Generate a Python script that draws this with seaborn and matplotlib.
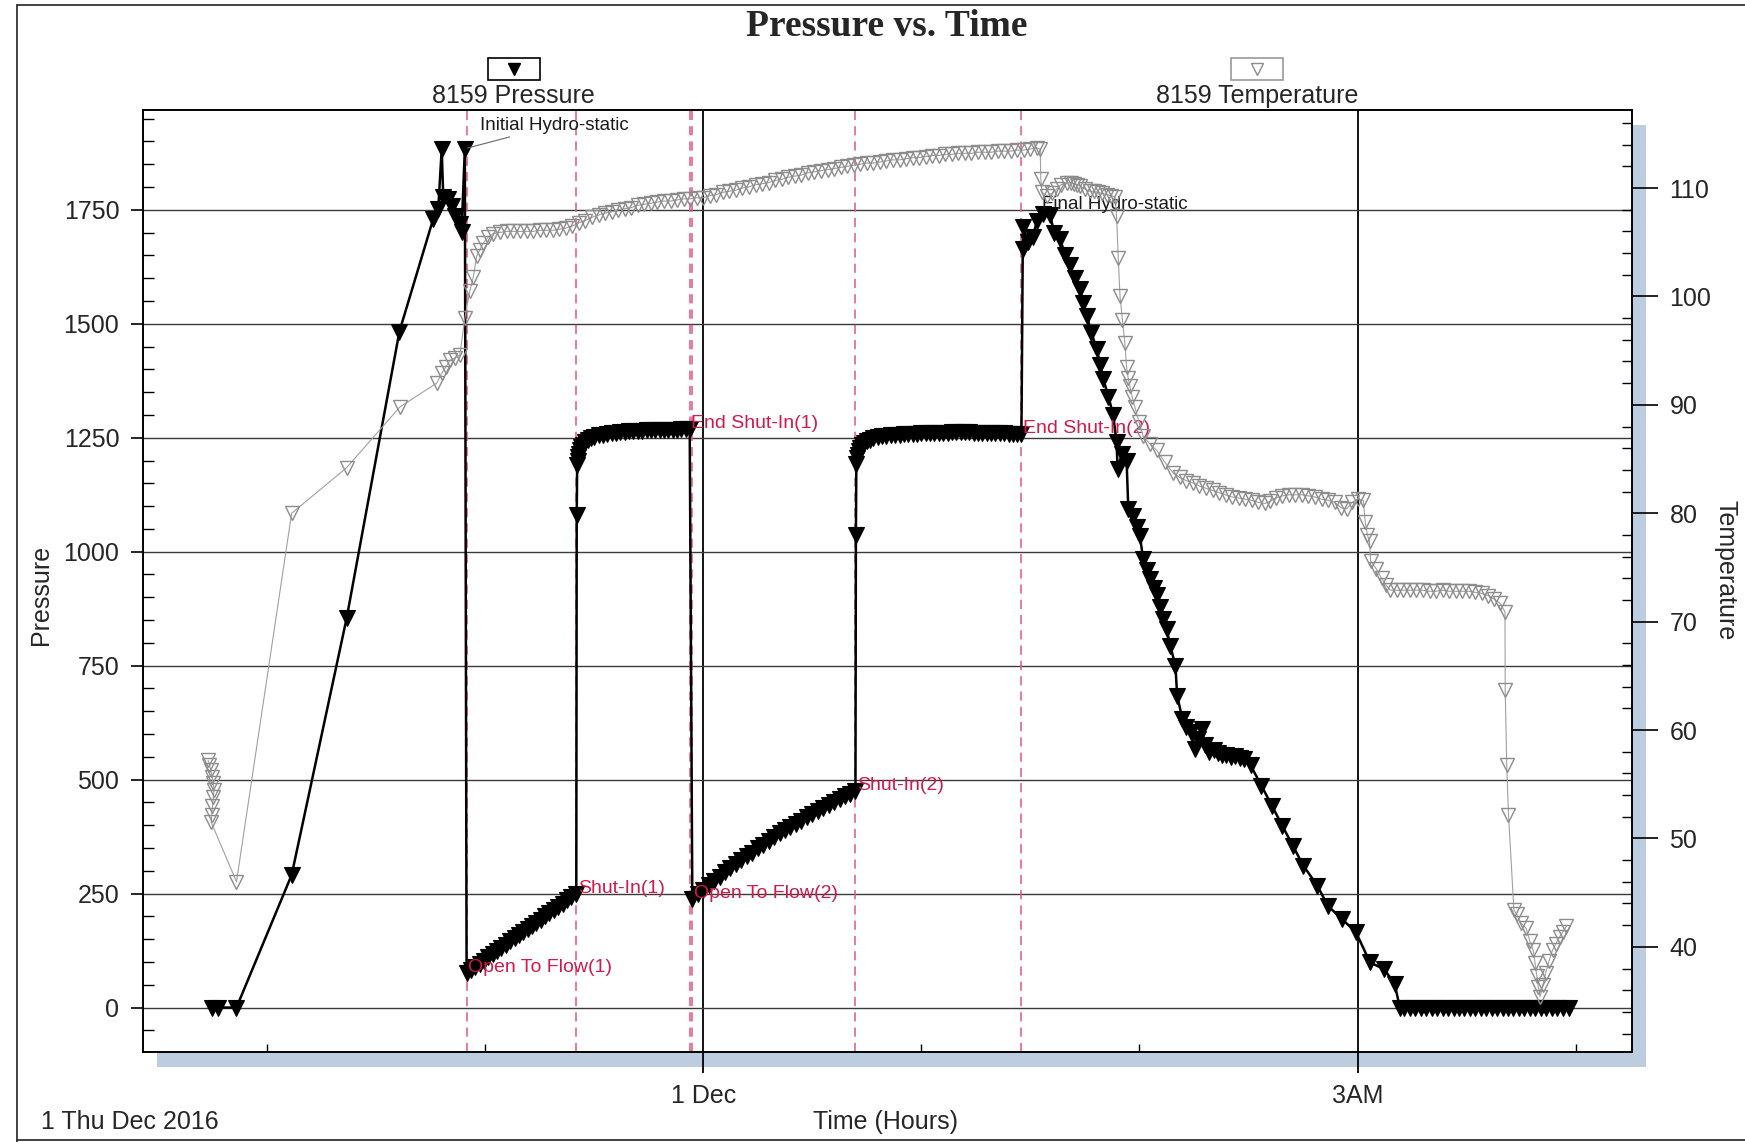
import matplotlib
matplotlib.use("Agg")
import matplotlib.pyplot as plt
import seaborn as sns
import numpy as np
import pandas as pd
from matplotlib.patches import Rectangle
from matplotlib.lines import Line2D
from matplotlib.ticker import MultipleLocator, FixedLocator

# gauge 8159, time in hours relative to midnight 1 Dec 2016
RUN_IN_HRS = [-2.254, -2.224, -2.140, -1.887, -1.635, -1.393, -1.238, -1.215, -1.199,
              -1.192, -1.169, -1.154, -1.138, -1.116, -1.108, -1.093]
RUN_IN_PSI = [0, 0, 0, 291, 854, 1483, 1730, 1752, 1884,
              1778, 1774, 1759, 1737, 1719, 1701, 1884]

FLOW1_HRS = [-1.085, -1.065, -1.045, -1.025, -1.005, -0.985, -0.965, -0.945, -0.925,
             -0.905, -0.885, -0.865, -0.845, -0.825, -0.805, -0.785, -0.765, -0.745,
             -0.725, -0.705, -0.685, -0.665, -0.645, -0.625, -0.605, -0.582]
FLOW1_PSI = [75, 82, 89, 96, 103, 110, 117, 124, 131,
             138, 145, 152, 159, 165, 172, 179, 186, 193,
             200, 207, 214, 221, 228, 235, 242, 250]

SHUTIN1_HRS = [-0.580, -0.578, -0.576, -0.574, -0.571, -0.566, -0.560, -0.552, -0.543,
               -0.530, -0.515, -0.500, -0.480, -0.460, -0.440, -0.420, -0.400, -0.380,
               -0.360, -0.340, -0.320, -0.300, -0.280, -0.260, -0.240, -0.220, -0.200,
               -0.180, -0.160, -0.140, -0.120, -0.100, -0.080, -0.062]
SHUTIN1_PSI = [1080, 1190, 1200, 1208, 1215, 1222, 1229, 1235, 1240,
               1245, 1249, 1252, 1255, 1257, 1259, 1260, 1261, 1262,
               1263, 1264, 1264, 1265, 1265, 1266, 1266, 1267, 1267,
               1267, 1268, 1268, 1268, 1269, 1269, 1270]

FLOW2_HRS = [-0.050, -0.025, 0.000, 0.025, 0.050, 0.075, 0.100, 0.125, 0.150, 0.175,
             0.200, 0.225, 0.250, 0.275, 0.300, 0.325, 0.350, 0.375, 0.400, 0.425,
             0.450, 0.475, 0.500, 0.525, 0.550, 0.575, 0.600, 0.625, 0.650, 0.675, 0.698]
FLOW2_PSI = [238, 248, 258, 268, 277, 287, 297, 306, 314, 323,
             332, 340, 349, 357, 366, 375, 382, 389, 396, 403,
             410, 417, 424, 431, 438, 444, 450, 457, 463, 469, 475]

SHUTIN2_HRS = [0.700, 0.702, 0.705, 0.709, 0.714, 0.720, 0.728, 0.738, 0.750, 0.765,
               0.780, 0.800, 0.820, 0.840, 0.860, 0.880, 0.900, 0.920, 0.940, 0.960,
               0.980, 1.000, 1.020, 1.040, 1.060, 1.080, 1.100, 1.120, 1.140, 1.160,
               1.180, 1.200, 1.220, 1.240, 1.260, 1.280, 1.300, 1.320, 1.340, 1.360,
               1.380, 1.400, 1.420, 1.440, 1.459]
SHUTIN2_PSI = [1036, 1193, 1205, 1213, 1220, 1227, 1233, 1238, 1242, 1246,
               1249, 1251, 1253, 1254, 1255, 1256, 1257, 1258, 1258, 1259,
               1259, 1260, 1260, 1260, 1261, 1261, 1261, 1261, 1262, 1262,
               1262, 1262, 1262, 1261, 1261, 1261, 1261, 1260, 1260, 1260,
               1260, 1259, 1259, 1259, 1258]

PULL_OUT_HRS = [1.465, 1.468, 1.490, 1.510, 1.530, 1.560, 1.590, 1.610, 1.636, 1.660,
                1.681, 1.705, 1.727, 1.742, 1.758, 1.780, 1.804, 1.820, 1.834, 1.858,
                1.880, 1.895, 1.900, 1.920, 1.941, 1.949, 1.972, 1.990, 2.002, 2.017,
                2.035, 2.048, 2.065, 2.079, 2.095, 2.109, 2.125, 2.141, 2.165, 2.173,
                2.197, 2.215, 2.237, 2.253, 2.270, 2.285, 2.300, 2.317, 2.340, 2.360,
                2.380, 2.398, 2.420, 2.440, 2.460, 2.479, 2.510, 2.559, 2.607, 2.655,
                2.703, 2.752, 2.816, 2.864, 2.929, 2.993, 3.057, 3.122, 3.170, 3.194]
PULL_OUT_PSI = [1664, 1712, 1680, 1690, 1725, 1741, 1738, 1700, 1686, 1650,
                1628, 1600, 1577, 1545, 1518, 1480, 1445, 1410, 1379, 1340,
                1299, 1240, 1182, 1215, 1200, 1094, 1079, 1055, 1035, 984,
                960, 940, 920, 904, 878, 853, 830, 794, 750, 684,
                633, 615, 604, 567, 590, 611, 575, 560, 565, 558,
                555, 553, 550, 552, 548, 545, 531, 487, 443, 399,
                355, 311, 267, 223, 194, 165, 99, 84, 52, 0]

SURFACE_HRS = [3.215, 3.240, 3.265, 3.290, 3.315, 3.340, 3.365, 3.390, 3.415, 3.440,
               3.465, 3.490, 3.515, 3.540, 3.565, 3.590, 3.615, 3.640, 3.665, 3.690,
               3.715, 3.740, 3.765, 3.790, 3.815, 3.840, 3.865, 3.890, 3.915, 3.940, 3.968]
SURFACE_PSI = [0, 0, 0, 0, 0, 0, 0, 0, 0, 0,
               0, 0, 0, 0, 0, 0, 0, 0, 0, 0,
               0, 0, 0, 0, 0, 0, 0, 0, 0, 0, 0]

TEMP_RUN_IN_HRS = [-2.270, -2.264, -2.258, -2.252, -2.247, -2.243, -2.246, -2.250, -2.253,
                   -2.256, -2.140, -1.887, -1.635, -1.391, -1.222, -1.199, -1.180, -1.161,
                   -1.140, -1.116, -1.093, -1.070, -1.054, -1.039, -1.024, -1.009, -0.985,
                   -0.963]
TEMP_RUN_IN_DEG = [57.2, 56.8, 56.3, 55.7, 55.1, 54.5, 53.8, 53.0, 52.2,
                   51.5, 46.0, 80.0, 84.2, 89.8, 92.0, 92.9, 93.5, 94.1,
                   94.3, 94.6, 98.0, 100.5, 101.8, 103.7, 104.3, 104.9, 105.5,
                   105.8]

TEMP_TEST_HRS = [-0.93, -0.90, -0.87, -0.84, -0.81, -0.78, -0.75, -0.72, -0.69, -0.66,
                 -0.63, -0.60, -0.57, -0.54, -0.51, -0.48, -0.45, -0.42, -0.39, -0.36,
                 -0.33, -0.30, -0.27, -0.24, -0.21, -0.18, -0.15, -0.12, -0.09, -0.06,
                 -0.03, 0.00, 0.03, 0.06, 0.09, 0.12, 0.15, 0.18, 0.21, 0.24,
                 0.27, 0.30, 0.33, 0.36, 0.39, 0.42, 0.45, 0.48, 0.51, 0.54,
                 0.57, 0.60, 0.63, 0.66, 0.69, 0.72, 0.75, 0.78, 0.81, 0.84,
                 0.87, 0.90, 0.93, 0.96, 0.99, 1.02, 1.05, 1.08, 1.11, 1.14,
                 1.17, 1.20, 1.23, 1.26, 1.29, 1.32, 1.35, 1.38, 1.41, 1.44,
                 1.47, 1.50, 1.53, 1.545]
TEMP_TEST_DEG = [105.9, 106.0, 106.0, 106.0, 106.0, 106.0, 106.1, 106.1, 106.1, 106.2,
                 106.3, 106.5, 106.8, 107.0, 107.3, 107.5, 107.7, 107.8, 108.0, 108.1,
                 108.2, 108.4, 108.5, 108.6, 108.7, 108.8, 108.8, 108.9, 109.0, 109.0,
                 109.1, 109.1, 109.3, 109.4, 109.6, 109.7, 109.8, 110.0, 110.1, 110.3,
                 110.4, 110.5, 110.7, 110.8, 111.0, 111.1, 111.2, 111.4, 111.5, 111.6,
                 111.7, 111.8, 111.9, 112.0, 112.1, 112.2, 112.3, 112.3, 112.4, 112.5,
                 112.6, 112.6, 112.7, 112.8, 112.8, 112.9, 113.0, 113.0, 113.1, 113.1,
                 113.2, 113.2, 113.2, 113.3, 113.3, 113.3, 113.4, 113.4, 113.4, 113.5,
                 113.5, 113.6, 113.7, 113.6]

TEMP_PULL_OUT_HRS = [1.548, 1.553, 1.575, 1.600, 1.620, 1.640, 1.666, 1.685, 1.700, 1.715,
                     1.727, 1.750, 1.773, 1.790, 1.810, 1.830, 1.850, 1.870, 1.888, 1.895,
                     1.903, 1.911, 1.922, 1.933, 1.941, 1.948, 1.956, 1.967, 1.979, 1.998,
                     2.017, 2.048, 2.079, 2.117, 2.155, 2.185, 2.215, 2.245, 2.275, 2.305,
                     2.335, 2.365, 2.395, 2.425, 2.455, 2.485, 2.515, 2.545, 2.575, 2.600,
                     2.625, 2.655, 2.685, 2.715, 2.745, 2.775, 2.805, 2.835, 2.865, 2.895,
                     2.925, 2.950, 2.975, 3.000, 3.026, 3.035, 3.045, 3.055, 3.060, 3.085,
                     3.110, 3.130, 3.150, 3.180, 3.210, 3.240, 3.270, 3.300, 3.330, 3.360,
                     3.390, 3.420, 3.450, 3.480, 3.510, 3.540, 3.570, 3.600, 3.625, 3.653,
                     3.676, 3.677, 3.684, 3.692, 3.717, 3.730, 3.749, 3.773, 3.790, 3.805,
                     3.814, 3.822, 3.829, 3.837, 3.850, 3.862, 3.878, 3.894, 3.910, 3.926,
                     3.942, 3.958]
TEMP_PULL_OUT_DEG = [110.8, 109.6, 109.3, 109.5, 109.9, 110.3, 110.5, 110.5, 110.4, 110.3,
                     110.2, 109.9, 109.7, 109.7, 109.6, 109.5, 109.4, 109.3, 109.2, 107.4,
                     103.5, 100.0, 97.8, 95.7, 93.5, 92.5, 91.7, 90.7, 89.8, 88.4,
                     87.1, 86.4, 85.8, 84.7, 83.7, 83.3, 83.0, 82.8, 82.5, 82.3,
                     82.1, 81.9, 81.7, 81.5, 81.4, 81.3, 81.2, 81.0, 80.9, 81.1,
                     81.4, 81.6, 81.7, 81.7, 81.7, 81.6, 81.5, 81.3, 81.2, 81.0,
                     80.5, 80.4, 81.0, 81.3, 81.2, 79.2, 78.0, 77.4, 75.6, 74.9,
                     74.0, 73.4, 72.9, 72.9, 72.9, 72.9, 72.9, 72.9, 72.8, 72.8,
                     72.9, 72.8, 72.8, 72.8, 72.8, 72.7, 72.6, 72.4, 72.1, 71.7,
                     70.9, 63.7, 56.8, 52.2, 43.4, 43.0, 42.2, 41.7, 40.5, 39.7,
                     38.5, 37.3, 36.3, 35.4, 36.5, 37.6, 38.7, 39.7, 40.3, 40.9,
                     41.4, 41.9]

EVENT_NAMES = ["Open To Flow(1)", "Shut-In(1)", "End Shut-In(1)",
               "Open To Flow(2)", "Shut-In(2)", "End Shut-In(2)"]
X_TICK_HRS = [0, 3]
X_TICK_LABELS = ["1 Dec", "3AM"]

pressure = pd.DataFrame({
    "hours": RUN_IN_HRS + FLOW1_HRS + SHUTIN1_HRS + FLOW2_HRS + SHUTIN2_HRS + PULL_OUT_HRS + SURFACE_HRS,
    "psi": RUN_IN_PSI + FLOW1_PSI + SHUTIN1_PSI + FLOW2_PSI + SHUTIN2_PSI + PULL_OUT_PSI + SURFACE_PSI,
})
temperature = pd.DataFrame({
    "hours": TEMP_RUN_IN_HRS + TEMP_TEST_HRS + TEMP_PULL_OUT_HRS,
    "deg": TEMP_RUN_IN_DEG + TEMP_TEST_DEG + TEMP_PULL_OUT_DEG,
})
# event points: start / end of each flow and shut-in period
events = [(FLOW1_HRS[0], FLOW1_PSI[0]), (FLOW1_HRS[-1], FLOW1_PSI[-1]),
          (SHUTIN1_HRS[-1], SHUTIN1_PSI[-1]), (FLOW2_HRS[0], FLOW2_PSI[0]),
          (FLOW2_HRS[-1], FLOW2_PSI[-1]), (SHUTIN2_HRS[-1], SHUTIN2_PSI[-1])]

sns.set_theme(style="ticks")
plt.rcParams["font.family"] = ["Liberation Sans", "DejaVu Sans"]
plt.rcParams["axes.edgecolor"] = "black"

fig = plt.figure(figsize=(17.45, 11.42), dpi=100)
fig.subplots_adjust(left=0.0819, right=0.9352, bottom=0.0788, top=0.9037)
ax = fig.add_subplot(111)
ax.set_facecolor("white")

# drop shadow behind the plot frame
fig.add_artist(Rectangle((0.0900, 0.0657), 0.8533, 0.8249, transform=fig.transFigure,
                         facecolor="#bccddf", edgecolor="none", zorder=-5))
# outer frame of the page
for xs, ys in [([0.0097, 0.0097], [0.0, 0.9956]), ([0.0097, 1.0], [0.9956, 0.9956]),
               ([0.0097, 1.0], [0.0018, 0.0018])]:
    fig.add_artist(Line2D(xs, ys, transform=fig.transFigure, color="#333333", lw=1.3))

red = "#cf1c4b"
for t, _ in events:
    ax.axvline(t, color="#e2577a", lw=1.1, ls=(0, (6, 4)), zorder=1)

sns.lineplot(data=pressure, x="hours", y="psi", sort=False, estimator=None, ax=ax,
             color="black", lw=1.8, marker="v", markersize=11,
             markerfacecolor="black", markeredgecolor="black", markeredgewidth=0.8, zorder=3)

for name, (t, p) in zip(EVENT_NAMES, events):
    ax.annotate(name, (t, p), xytext=(1, 4), textcoords="offset points",
                color=red, fontsize=14, ha="left", va="center", zorder=6)

i_init = len(RUN_IN_PSI) - 1 - RUN_IN_PSI[::-1].index(max(RUN_IN_PSI))
ax.annotate("Initial Hydro-static", (RUN_IN_HRS[i_init], RUN_IN_PSI[i_init]),
            xytext=(11, 17), textcoords="offset points", fontsize=13.5, color="#1a1a1a",
            ha="left", va="center", zorder=6,
            arrowprops=dict(arrowstyle="-", color="#666666", lw=0.8, shrinkA=0, shrinkB=2))
i_final = PULL_OUT_PSI.index(max(PULL_OUT_PSI))
ax.annotate("Final Hydro-static", (PULL_OUT_HRS[i_final], PULL_OUT_PSI[i_final]),
            xytext=(-1, 7), textcoords="offset points", fontsize=13.5, color="#1a1a1a",
            ha="left", va="center", zorder=6)

ax.set_xlim(-2.569, 4.258)
ax.set_ylim(-97.6, 1969)
ax.xaxis.set_major_locator(FixedLocator(X_TICK_HRS))
ax.set_xticklabels(X_TICK_LABELS)
ax.xaxis.set_minor_locator(MultipleLocator(1))
ax.yaxis.set_major_locator(MultipleLocator(250))
ax.yaxis.set_minor_locator(MultipleLocator(50))
ax.yaxis.grid(True, which="major", color="#3a3a3a", lw=1.0)
ax.xaxis.grid(True, which="major", color="black", lw=1.3)
ax.set_axisbelow(True)
ax.tick_params(axis="y", which="major", direction="out", length=9, width=1.2, pad=8,
               labelsize=18, color="black")
ax.tick_params(axis="y", which="minor", direction="in", length=8, width=1.0, color="black")
ax.tick_params(axis="x", which="major", direction="out", length=15, width=1.3, pad=8,
               labelsize=18, color="black")
ax.tick_params(axis="x", which="minor", direction="in", length=6, width=1.0, color="black")
for s in ax.spines.values():
    s.set_color("black")
    s.set_linewidth(1.2)

ax.set_xlabel("Time (Hours)", fontsize=18)
ax.xaxis.set_label_coords(0.499, -0.0743)
ax.xaxis.label.set_va("center")
ax.set_ylabel("Pressure", fontsize=18)
ax.yaxis.label.set_rotation_mode("default")
ax.yaxis.label.set_ha("left")
ax.yaxis.label.set_va("center")
ax.yaxis.set_label_coords(-0.0766, 0.485)
ax.text(-0.0685, -0.0743, "1 Thu Dec 2016", transform=ax.transAxes, fontsize=18,
        ha="left", va="center")

ax2 = ax.twinx()
sns.lineplot(data=temperature, x="hours", y="deg", sort=False, estimator=None, ax=ax2,
             color="#a0a0a0", lw=0.8, marker="v", markersize=10,
             markerfacecolor="none", markeredgecolor="#8c8c8c", markeredgewidth=1.0)
ax2.set_ylim(30.3, 117.2)
ax2.yaxis.set_major_locator(MultipleLocator(10))
ax2.yaxis.set_minor_locator(MultipleLocator(2))
ax2.tick_params(axis="y", which="major", direction="out", length=19, width=1.2, pad=8,
                labelsize=18, color="black")
ax2.tick_params(axis="y", which="minor", direction="in", length=7, width=1.0, color="black")
for s in ax2.spines.values():
    s.set_color("black")
    s.set_linewidth(1.2)
ax2.set_ylabel("Temperature", fontsize=18, rotation=270)
ax2.yaxis.label.set_rotation_mode("default")
ax2.yaxis.label.set_ha("left")
ax2.yaxis.label.set_va("center")
ax2.yaxis.set_label_coords(1.0545, 0.512)

# gauge headers above the frame
for xc, label, ec, fc in [(0.249, "8159 Pressure", "black", "black"),
                          (0.7484, "8159 Temperature", "#9a9a9a", "none")]:
    ax.add_patch(Rectangle((xc - 0.0175, 1.0313), 0.035, 0.0244, transform=ax.transAxes,
                           facecolor="white", edgecolor=ec, lw=1.2, clip_on=False))
    ax.plot([xc], [1.0435], marker="v", ms=8, transform=ax.transAxes, clip_on=False,
            markerfacecolor=fc, markeredgecolor="black" if fc == "black" else "#8c8c8c",
            ls="none")
    ax.text(xc, 1.0152, label, transform=ax.transAxes, fontsize=18, ha="center", va="center")

fig.text(0.508, 0.9765, "Pressure vs. Time", family="Liberation Serif", fontsize=27,
         weight="bold", ha="center", va="center")

fig.savefig("out.png", dpi=100)
